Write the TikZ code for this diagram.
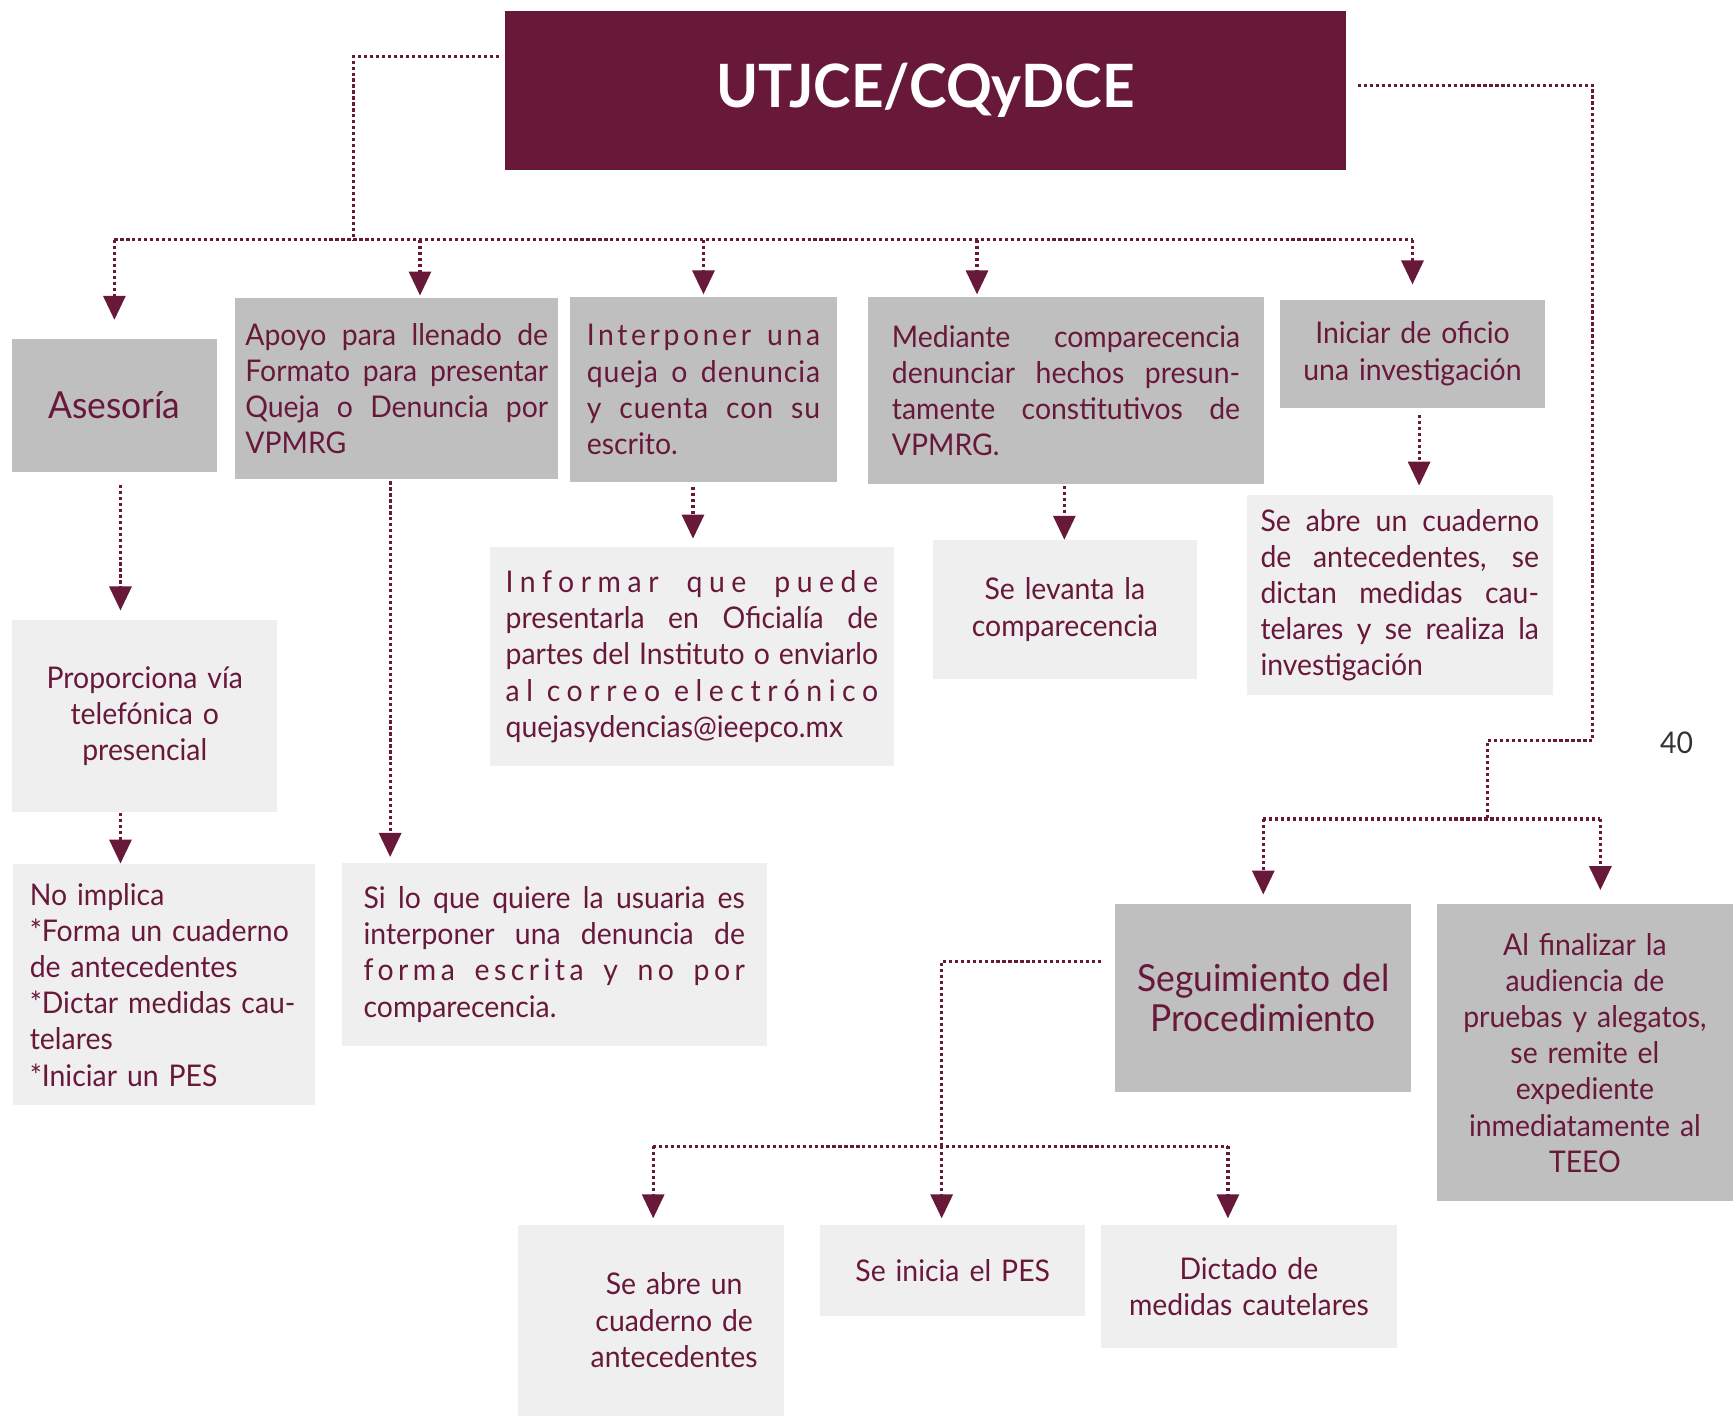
\documentclass[tikz,border=0pt]{standalone}
\usepackage{fontspec}
\setmainfont{Lato}[FakeStretch=0.95]
\usepackage{tikz}
\usetikzlibrary{arrows.meta}

\definecolor{vino}{HTML}{681838}
\definecolor{grisosc}{HTML}{BFBFBF}
\definecolor{grisclaro}{HTML}{EFEFEF}
\newlength{\px}
\setlength{\px}{0.11052mm}
% justified line, and a letter spaced one
\newcommand{\jl}[1]{\makebox[\hsize][s]{\spaceskip=0pt\relax #1}}
\newcommand{\jls}[2][12]{\makebox[\hsize][s]{\addfontfeature{LetterSpace=#1}\spaceskip=0pt\relax #2}}

\begin{document}
\begin{tikzpicture}[>={Triangle[length=2.4mm,width=2.2mm]}, x=0.11052mm, y=-0.11052mm,
  link/.style={vino, line width=0.9pt, dash pattern=on 0.9pt off 0.8pt},
  dbox/.style={fill=grisosc, text=vino, inner sep=0pt},
  lbox/.style={fill=grisclaro, text=vino, inner sep=0pt},
  body/.style={font=\fontsize{8.5}{10.3}\selectfont},
  big/.style={font=\fontsize{10.6}{11.2}\selectfont}]
  \useasboundingbox (0,0) rectangle (1568,1281);

  \node (title) at (837.5,82) [fill=vino, text=white, minimum width=761\px, minimum height=144\px,
    font=\fontsize{17}{20}\selectfont\bfseries] {UTJCE/CQyDCE};

  % first row
  \node (ases) at (103.5,367) [dbox, big, minimum width=185\px, minimum height=120\px] {Asesoría};
  \node (apoyo) at (359,351.5) [dbox, body, minimum width=292\px, minimum height=163\px, text width=274\px, align=left]
    {\jl{Apoyo para llenado de}\\ \jl{Formato para presentar}\\ \jl{Queja o Denuncia por}\\ VPMRG};
  \node (inter) at (636.5,352.5) [dbox, body, minimum width=241\px, minimum height=167\px, text width=211\px, align=left]
    {\jls[12]{Interponer una}\\ \jls[3]{queja o denuncia}\\ \jls[3]{y cuenta con su}\\ escrito.};
  \node (medi) at (964.5,353.5) [dbox, body, minimum width=359\px, minimum height=169\px, text width=315\px, align=left]
    {\jl{Mediante comparecencia}\\ \jl{denunciar hechos presun-}\\ \jl{tamente constitutivos de}\\ VPMRG.};
  \node (inic) at (1278,320) [dbox, body, minimum width=240\px, minimum height=98\px, text width=220\px, align=center]
    {Iniciar de oficio\\ una investigación};

  % second row
  \node (prop) at (131,648) [lbox, body, minimum width=240\px, minimum height=174\px, text width=220\px, align=center]
    {Proporciona vía\\ telefónica o\\ presencial};
  \node (inform) at (626,594) [lbox, body, minimum width=366\px, minimum height=198\px, text width=337\px, align=left]
    {\jls[22]{Informar que puede}\\ \jl{presentarla en Oficialía de}\\ \jl{partes del Instituto o enviarlo}\\
     \jls[22]{al correo electrónico}\\ quejasydencias@ieepco.mx};
  \node (levanta) at (963.5,551.5) [lbox, body, minimum width=239\px, minimum height=125\px, text width=220\px, align=center]
    {Se levanta la\\ comparecencia};
  \node (abre1) at (1266.5,538.5) [lbox, body, minimum width=277\px, minimum height=181\px, text width=252\px, align=left]
    {\jl{Se abre un cuaderno}\\ \jl{de antecedentes, se}\\ \jl{dictan medidas cau-}\\ \jl{telares y se realiza la}\\ investigación};
  \node (pag) at (1517,672) [text=black!80, font=\fontsize{8.5}{10}\selectfont] {40};

  % third row
  \node (noimp) at (148.5,891) [lbox, body, minimum width=273\px, minimum height=218\px, text width=243\px, align=left]
    {No implica\\ {*}Forma un cuaderno\\ de antecedentes\\ {*}Dictar medidas cau-\\ telares\\ {*}Iniciar un PES};
  \node (silo) at (501.5,863.5) [lbox, body, minimum width=385\px, minimum height=165\px, text width=345\px, align=left]
    {\jl{Si lo que quiere la usuaria es}\\ \jl{interponer una denuncia de}\\ \jls[15]{forma escrita y no por}\\ comparecencia.};
  \node (segui) at (1143,903) [dbox, big, minimum width=268\px, minimum height=170\px, text width=250\px, align=center]
    {Seguimiento del\\ Procedimiento};
  \node (alfin) at (1434,952.5) [dbox, body, minimum width=268\px, minimum height=269\px, text width=250\px, align=center]
    {Al finalizar la\\ audiencia de\\ pruebas y alegatos,\\ se remite el\\ expediente\\ inmediatamente al\\ TEEO};

  % fourth row
  \node (abre2) at (589,1194.5) [lbox, body, minimum width=240\px, minimum height=173\px, text width=220\px, align=center]
    {\hspace*{42\px}Se abre un\\ \hspace*{42\px}cuaderno de\\ \hspace*{42\px}antecedentes};
  \node (pes) at (862,1149.5) [lbox, body, minimum width=240\px, minimum height=83\px, text width=220\px, align=center]
    {Se inicia el PES};
  \node (dict) at (1130,1164) [lbox, body, minimum width=268\px, minimum height=112\px, text width=250\px, align=center]
    {Dictado de\\ medidas cautelares};

  \coordinate (hubA) at (320,217);
  \coordinate (bendB) at (1441,670);
  \coordinate (hubB) at (1346,741);
  \coordinate (hubC) at (852,1037);

  % from the title to the first row
  \draw [link, shorten <=5\px] (title.west |- 0,51) -| (hubA);
  \draw [link] (ases.north |- hubA) -- (inic.north |- hubA);
  \draw [link, ->, shorten >=17\px] (ases.north |- hubA) -- (ases.north);
  \draw [link, ->, shorten >=2\px] (hubA -| 380,0) -- (apoyo.north -| 380,0);
  \draw [link, ->, shorten >=2\px] (hubA -| inter.north) -- (inter.north);
  \draw [link, ->, shorten >=2\px] (hubA -| 884,0) -- (medi.north -| 884,0);
  \draw [link, ->, shorten >=13\px] (inic.north |- hubA) -- (inic.north);

  % downwards
  \draw [link, ->, shorten <=11\px, shorten >=8\px] (ases.south -| 109,0) -- (prop.north -| 109,0);
  \draw [link, ->] (prop.south -| 109,0) -- (noimp.north -| 109,0);
  \draw [link, ->, shorten <=2\px, shorten >=5\px] (apoyo.south -| 353,0) -- (silo.north -| 353,0);
  \draw [link, ->, shorten <=4\px, shorten >=7\px] (inter.south -| 627,0) -- (inform.north -| 627,0);
  \draw [link, ->, shorten <=1\px] (medi.south -| 963,0) -- (levanta.north -| 963,0);
  \draw [link, ->, shorten <=6\px, shorten >=8\px] (inic.south -| 1284,0) -- (abre1.north -| 1284,0);

  % right branch
  \draw [link, shorten <=10\px] (title.east |- 0,77) -| (bendB) -| (hubB);
  \draw [link] (segui.north |- hubB) -- (hubB -| 1448,0);
  \draw [link, ->, shorten >=8\px] (segui.north |- hubB) -- (segui.north);
  \draw [link, ->, shorten >=12\px] (hubB -| 1448,0) -- (alfin.north -| 1448,0);

  % from Seguimiento
  \draw [link, shorten <=12\px] (segui.west |- 0,870) -| (hubC);
  \draw [link] (hubC -| 591,0) -- (hubC -| 1111,0);
  \draw [link, ->, shorten >=5\px] (hubC -| 591,0) -- (abre2.north -| 591,0);
  \draw [link, ->, shorten >=5\px] (hubC) -- (pes.north -| hubC);
  \draw [link, ->, shorten >=5\px] (hubC -| 1111,0) -- (dict.north -| 1111,0);
\end{tikzpicture}
\end{document}
